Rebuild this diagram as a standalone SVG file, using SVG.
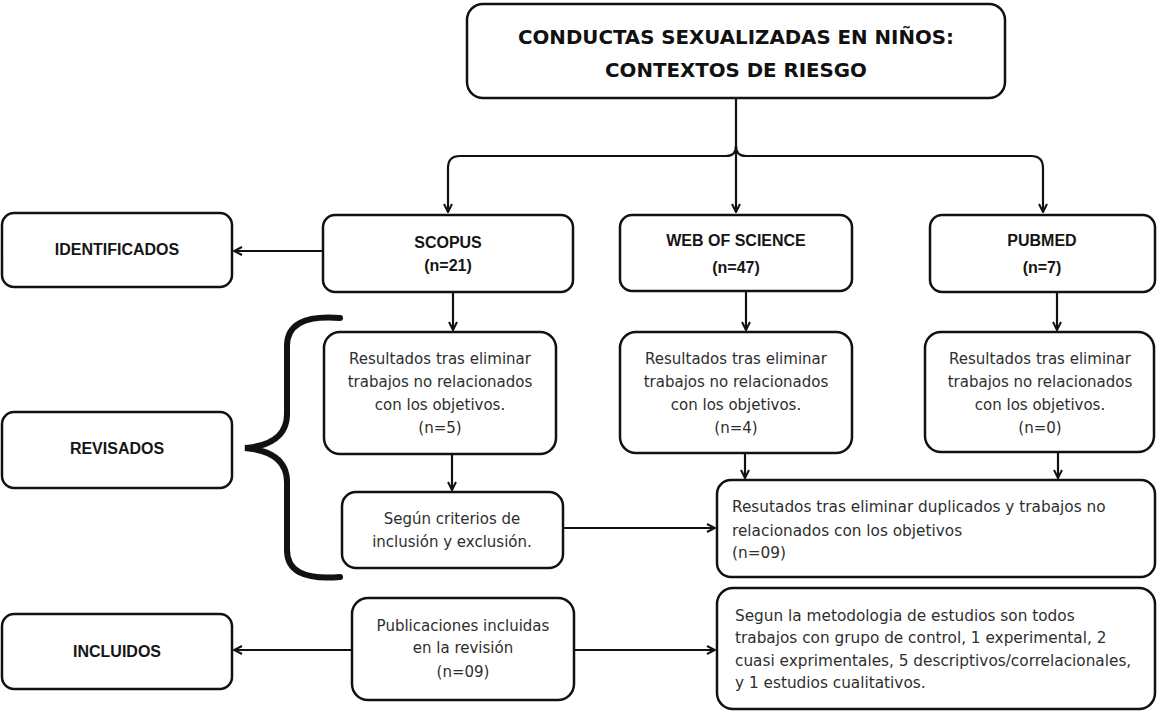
<svg xmlns="http://www.w3.org/2000/svg" width="1157" height="711" viewBox="0 0 1157 711">
<defs>
<style>
.box{fill:#fff;stroke:#111;stroke-width:2.5}
.title{font-family:"DejaVu Sans",sans-serif;font-weight:bold;font-size:19.8px;fill:#111;text-anchor:middle}
.hd{font-family:"Liberation Sans",Arial,sans-serif;font-weight:bold;font-size:16px;fill:#151515;text-anchor:middle}
.tx{font-family:"DejaVu Sans",sans-serif;font-size:15px;fill:#2e2e2e;text-anchor:middle}
.tl{font-family:"DejaVu Sans",sans-serif;font-size:15.3px;fill:#2e2e2e}
.ln{fill:none;stroke:#111;stroke-width:2.2}
</style>
<marker id="arr" viewBox="0 0 10 10" refX="9" refY="5" markerWidth="10" markerHeight="10" markerUnits="userSpaceOnUse" orient="auto">
<path d="M1,1 L9,5 L1,9" fill="none" stroke="#111" stroke-width="2"/>
</marker>
</defs>
<rect width="1157" height="711" fill="#fff"/>

<g id="connectors">
<path class="ln" d="M736,98 V212" marker-end="url(#arr)"/>
<path class="ln" d="M736,146 Q736,156 726,156 H460 Q448,156 448,168 V212" marker-end="url(#arr)"/>
<path class="ln" d="M736,146 Q736,156 746,156 H1031 Q1043,156 1043,168 V212" marker-end="url(#arr)"/>
<path class="ln" d="M323,251 H234" marker-end="url(#arr)"/>
<path class="ln" d="M453,292 V330" marker-end="url(#arr)"/>
<path class="ln" d="M746,291 V330" marker-end="url(#arr)"/>
<path class="ln" d="M1057,292 V330" marker-end="url(#arr)"/>
<path class="ln" d="M452,454 V490" marker-end="url(#arr)"/>
<path class="ln" d="M745,453 V478" marker-end="url(#arr)"/>
<path class="ln" d="M1058,452 V478" marker-end="url(#arr)"/>
<path class="ln" d="M563,528 H715" marker-end="url(#arr)"/>
<path class="ln" d="M352,650 H234" marker-end="url(#arr)"/>
<path class="ln" d="M574,650 H715" marker-end="url(#arr)"/>
</g>

<g id="brace">
<path d="M340,318 C302,315 287,326 287,346 L287,414 C287,436 270,446 245,448 C270,450 287,460 287,482 L287,550 C287,570 302,580 340,577" fill="none" stroke="#111" stroke-width="6" stroke-linecap="round"/>
</g>

<g id="title">
<rect class="box" x="467" y="4" width="538" height="94" rx="16"/>
<text class="title" x="736" y="44">CONDUCTAS SEXUALIZADAS EN NIÑOS:</text>
<text class="title" x="736" y="77">CONTEXTOS DE RIESGO</text>
</g>

<g id="identificados">
<rect class="box" x="2" y="213" width="230" height="74" rx="12"/>
<text class="hd" x="117" y="255">IDENTIFICADOS</text>
</g>

<g id="scopus">
<rect class="box" x="323" y="215" width="250" height="77" rx="12"/>
<text class="hd" x="448" y="248">SCOPUS</text>
<text class="hd" x="448" y="271">(n=21)</text>
</g>

<g id="wos">
<rect class="box" x="620" y="215" width="232" height="76" rx="12"/>
<text class="hd" x="736" y="246">WEB OF SCIENCE</text>
<text class="hd" x="736" y="273">(n=47)</text>
</g>

<g id="pubmed">
<rect class="box" x="930" y="215" width="225" height="77" rx="12"/>
<text class="hd" x="1042" y="246">PUBMED</text>
<text class="hd" x="1042" y="273">(n=7)</text>
</g>

<g id="revisados">
<rect class="box" x="2" y="412" width="230" height="76" rx="12"/>
<text class="hd" x="117" y="454">REVISADOS</text>
</g>

<g id="scopus-res">
<rect class="box" x="324" y="332" width="232" height="122" rx="16"/>
<text class="tx" x="440" y="364">Resultados tras eliminar</text>
<text class="tx" x="440" y="387">trabajos no relacionados</text>
<text class="tx" x="440" y="410">con los objetivos.</text>
<text class="tx" x="440" y="433">(n=5)</text>
</g>

<g id="wos-res">
<rect class="box" x="620" y="332" width="232" height="121" rx="16"/>
<text class="tx" x="736" y="364">Resultados tras eliminar</text>
<text class="tx" x="736" y="387">trabajos no relacionados</text>
<text class="tx" x="736" y="410">con los objetivos.</text>
<text class="tx" x="736" y="433">(n=4)</text>
</g>

<g id="pubmed-res">
<rect class="box" x="925" y="332" width="229" height="120" rx="16"/>
<text class="tx" x="1040" y="364">Resultados tras eliminar</text>
<text class="tx" x="1040" y="387">trabajos no relacionados</text>
<text class="tx" x="1040" y="410">con los objetivos.</text>
<text class="tx" x="1040" y="433">(n=0)</text>
</g>

<g id="segun-criterios">
<rect class="box" x="342" y="492" width="221" height="76" rx="14"/>
<text class="tx" x="452" y="524">Según criterios de</text>
<text class="tx" x="452" y="547">inclusión y exclusión.</text>
</g>

<g id="resutados">
<rect class="box" x="717" y="480" width="438" height="97" rx="14"/>
<text class="tl" x="732" y="512">Resutados tras eliminar duplicados y trabajos no</text>
<text class="tl" x="732" y="536">relacionados con los objetivos</text>
<text class="tl" x="732" y="558">(n=09)</text>
</g>

<g id="incluidos">
<rect class="box" x="2" y="614" width="230" height="75" rx="12"/>
<text class="hd" x="117" y="657">INCLUIDOS</text>
</g>

<g id="publicaciones">
<rect class="box" x="352" y="598" width="222" height="102" rx="16"/>
<text class="tx" x="463" y="631">Publicaciones incluidas</text>
<text class="tx" x="463" y="653">en la revisión</text>
<text class="tx" x="463" y="677">(n=09)</text>
</g>

<g id="metodologia">
<rect class="box" x="717" y="588" width="438" height="121" rx="16"/>
<text class="tl" x="735" y="621">Segun la metodologia de estudios son todos</text>
<text class="tl" x="735" y="643">trabajos con grupo de control, 1 experimental, 2</text>
<text class="tl" x="735" y="666">cuasi exprimentales, 5 descriptivos/correlacionales,</text>
<text class="tl" x="735" y="688">y 1 estudios cualitativos.</text>
</g>
</svg>
